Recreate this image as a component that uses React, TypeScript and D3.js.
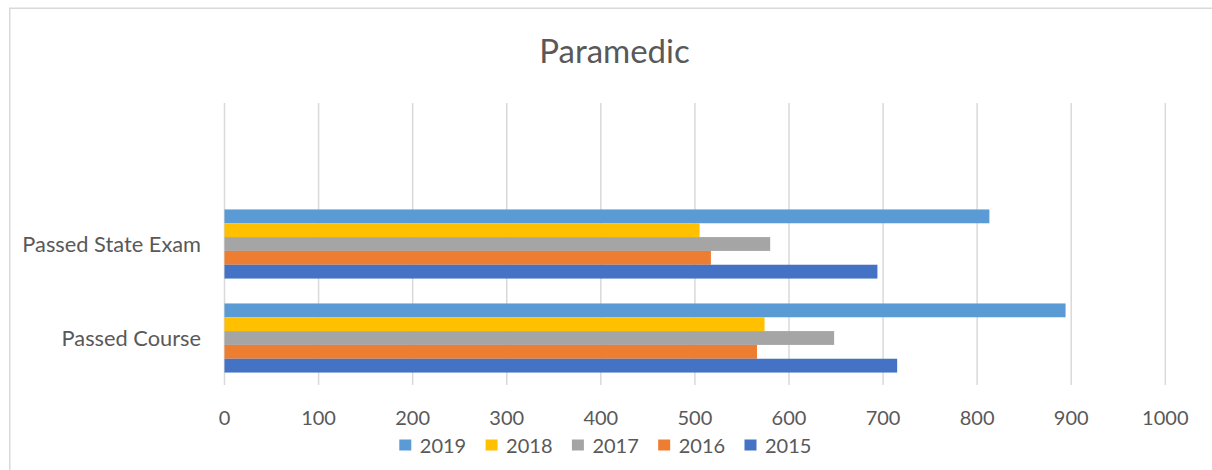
import React from "react";
import * as d3 from "d3";

const categories = ["Passed Course", "Passed State Exam", ""];
const years = ["2019", "2018", "2017", "2016", "2015"];
const colors = ["#5B9BD5", "#FFC000", "#A5A5A5", "#ED7D31", "#4472C4"];
const values2019 = [894, 813, 0];
const values2018 = [574, 505, 0];
const values2017 = [648, 580, 0];
const values2016 = [566, 517, 0];
const values2015 = [715, 694, 0];
const seriesValues = [values2019, values2018, values2017, values2016, values2015];
const xTicks = [0, 100, 200, 300, 400, 500, 600, 700, 800, 900, 1000];

const W = 1212;
const H = 470;
const plot = { left: 224.5, right: 1165.3, top: 103, bottom: 385 };
const textColor = "#595959";
const gridColor = "#D9D9D9";
const font = "Lato, 'Open Sans', sans-serif";

export default function App() {
  const x = d3.scaleLinear().domain([0, 1000]).range([plot.left, plot.right]);
  const y = d3
    .scaleBand<string>()
    .domain([...categories].reverse())
    .range([plot.top, plot.bottom])
    .padding(0);
  const yInner = d3
    .scaleBand<string>()
    .domain(years)
    .range([0, y.bandwidth()])
    .paddingInner(0)
    .paddingOuter(0.9);

  const legendStart = 399.3;
  const legendStep = 86.3;

  return (
    <svg
      width={W}
      height={H}
      style={{ position: "absolute", left: 0, top: 0, background: "#fff" }}
      fontFamily={font}
    >
      <rect x={0} y={0} width={W} height={H} fill="#fff" />
      <rect
        x={9.75}
        y={8.25}
        width={W + 10}
        height={H + 10}
        fill="none"
        stroke={gridColor}
        strokeWidth={1.5}
      />
      <text
        x={614.5}
        y={62.5}
        textAnchor="middle"
        fontSize={33}
        fill={textColor}
      >
        Paramedic
      </text>
      {xTicks.map((t) => (
        <line
          key={"g" + t}
          x1={x(t)}
          x2={x(t)}
          y1={plot.top}
          y2={plot.bottom}
          stroke={gridColor}
          strokeWidth={1.5}
        />
      ))}
      {categories.map((c, ci) => (
        <g key={"c" + ci} transform={`translate(0,${y(c)})`}>
          {years.map((yr, si) => {
            const v = seriesValues[si][ci];
            if (!v) return null;
            return (
              <rect
                key={yr}
                x={x(0)}
                y={yInner(yr)}
                width={x(v) - x(0)}
                height={yInner.bandwidth()}
                fill={colors[si]}
              />
            );
          })}
        </g>
      ))}
      {categories.map((c, ci) =>
        c ? (
          <text
            key={"l" + ci}
            x={201}
            y={(y(c) as number) + y.bandwidth() / 2 + 8}
            textAnchor="end"
            fontSize={21.8}
            fill={textColor}
          >
            {c}
          </text>
        ) : null
      )}
      {xTicks.map((t) => (
        <text
          key={"t" + t}
          x={x(t)}
          y={425}
          textAnchor="middle"
          fontSize={20}
          fill={textColor}
        >
          {t}
        </text>
      ))}
      {years.map((yr, i) => (
        <g key={"lg" + yr} transform={`translate(${legendStart + i * legendStep},0)`}>
          <rect x={0} y={439.5} width={12} height={11} fill={colors[i]} />
          <text x={20.5} y={453} fontSize={20} fill={textColor}>
            {yr}
          </text>
        </g>
      ))}
    </svg>
  );
}
